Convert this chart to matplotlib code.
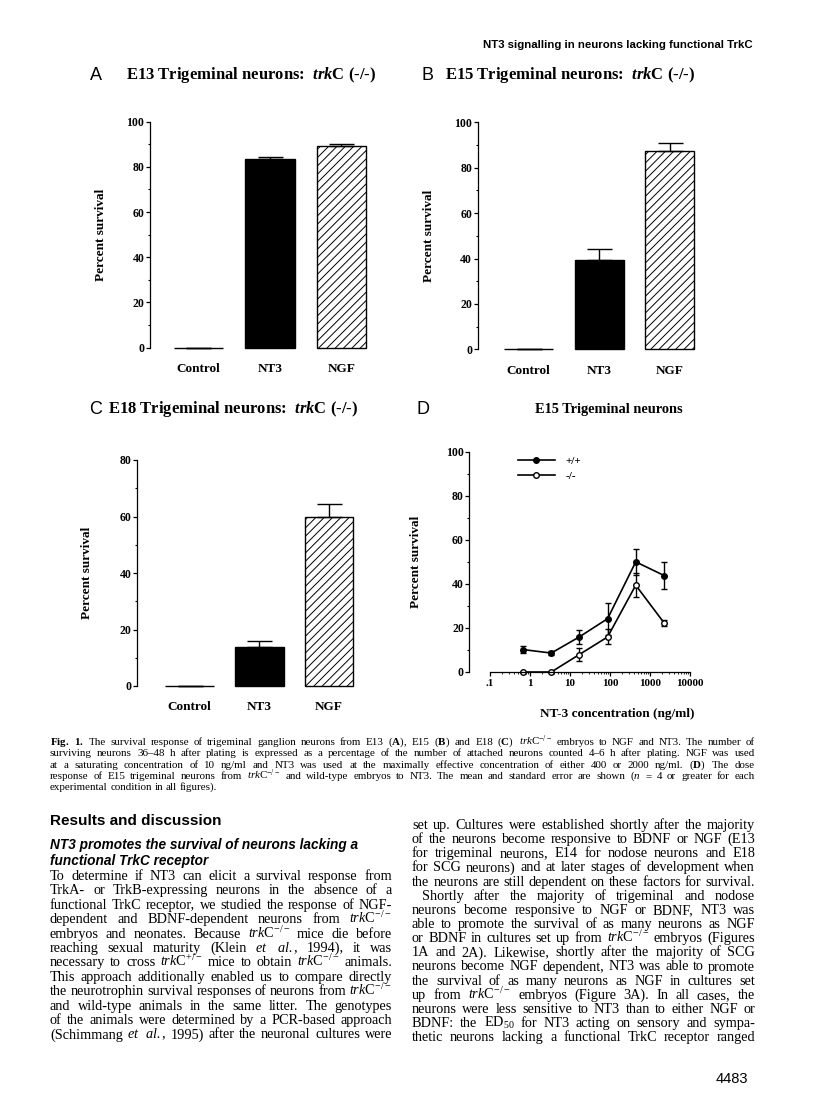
import numpy as np
import matplotlib
matplotlib.use('Agg')
import matplotlib.pyplot as plt
from matplotlib.ticker import FixedLocator, FixedFormatter, NullFormatter, MultipleLocator
from matplotlib.lines import Line2D

plt.rcParams['font.family'] = 'Liberation Serif'
plt.rcParams['mathtext.fontset'] = 'custom'
plt.rcParams['mathtext.rm'] = 'Liberation Serif'
plt.rcParams['mathtext.it'] = 'Liberation Serif:italic:bold'
plt.rcParams['mathtext.bf'] = 'Liberation Serif:bold'
plt.rcParams['mathtext.sf'] = 'Liberation Serif:italic'
plt.rcParams['hatch.linewidth'] = 0.7

W, H = 816, 1104

# ---- data ----
categories = ['Control', 'NT3', 'NGF']
e13_mean = [0, 83.4, 89.4]
e13_err = [0, 1.1, 0.9]
e15_mean = [0, 39.3, 87.4]
e15_err = [0, 4.9, 3.6]
e18_mean = [0, 13.7, 59.7]
e18_err = [0, 2.3, 4.7]

dose = [0.66, 3.4, 17, 87, 440, 2250]
wt_mean = [10.2, 8.6, 15.9, 24.2, 50.0, 43.8]
wt_err = [1.5, 1.0, 3.0, 7.3, 5.9, 6.2]
ko_mean = [0, 0, 7.9, 15.9, 39.4, 22.3]
ko_err = [0, 0, 3.0, 3.4, 5.5, 1.5]
dose_ticks = [0.1, 1, 10, 100, 1000, 10000]
dose_ticklabels = ['.1', '1', '10', '100', '1000', '10000']

fig = plt.figure(figsize=(W / 100, H / 100), dpi=100)
renderer = fig.canvas.get_renderer()


def add_ax(left, top, right, bottom):
    return fig.add_axes([left / W, 1 - bottom / H, (right - left) / W, (bottom - top) / H])


def ftext(x, y, s, **kw):
    return fig.text(x / W, 1 - y / H, s, **kw)


def style_y(ax, ymax, left, right, label_x):
    for s in ['top', 'right', 'bottom']:
        ax.spines[s].set_visible(False)
    ax.spines['left'].set_bounds(0, ymax)
    ax.spines['left'].set_linewidth(0.9)
    ax.set_ylim(0, ymax)
    ax.yaxis.set_major_locator(MultipleLocator(20))
    ax.yaxis.set_minor_locator(MultipleLocator(10))
    ax.tick_params(axis='y', which='major', direction='out', length=3, width=0.9, pad=1,
                   labelsize=8.5)
    ax.tick_params(axis='y', which='minor', direction='out', length=1.8, width=0.8)
    for lab in ax.get_yticklabels():
        lab.set_fontweight('bold')
    ax.set_ylabel('Percent survival', fontsize=9.5, fontweight='bold')
    ax.yaxis.set_label_coords((label_x - left) / (right - left), 0.5)


def bar_panel(ax, means, errs, ymax, left, right, xlo, xhi, label_x, width):
    x = np.arange(len(categories))
    bars = ax.bar(x, means, width=width, color=['white', 'black', 'white'],
                  edgecolor='black', linewidth=1, clip_on=False, zorder=2)
    bars[2].set_hatch('////')
    ax.errorbar(x, means, yerr=[np.zeros(len(errs)), errs], fmt='none', ecolor='black',
                elinewidth=1, capsize=9, capthick=1, clip_on=False, zorder=3)
    ax.set_xlim(xlo, xhi)
    ax.set_xticks(x)
    ax.set_xticklabels(categories, fontsize=9.5, fontweight='bold')
    ax.tick_params(axis='x', length=0, pad=11)
    style_y(ax, ymax, left, right, label_x)


# Panel A
axA = add_ax(150, 121.7, 380, 347.7)
bar_panel(axA, e13_mean, e13_err, 100, 150, 380, -0.675, 2.54, 107, 0.69)
ftext(90, 75, 'A', family='Liberation Sans', fontsize=13, va='center')
ftext(126, 75, r'E13 Trigeminal neurons:  $\mathit{trk}$C (-/-)', fontsize=12,
      fontweight='bold', va='center')

# Panel B
axB = add_ax(477.7, 122.3, 710, 349.3)
bar_panel(axB, e15_mean, e15_err, 100, 477.7, 710, -0.72, 2.57, 435, 0.69)
ftext(421, 75, 'B', family='Liberation Sans', fontsize=13, va='center')
ftext(445, 75, r'E15 Trigeminal neurons:  $\mathit{trk}$C (-/-)', fontsize=12,
      fontweight='bold', va='center')

# Panel C
axC = add_ax(137.3, 460, 370, 686)
bar_panel(axC, e18_mean, e18_err, 80, 137.3, 370, -0.75, 2.59, 93, 0.70)
ftext(89, 409, 'C', family='Liberation Sans', fontsize=13, va='center')
ftext(108, 409, r'E18 Trigeminal neurons:  $\mathit{trk}$C (-/-)', fontsize=12,
      fontweight='bold', va='center')

# Panel D
axD = add_ax(469.5, 451.7, 700, 672)
axD.set_xscale('log')
axD.set_xlim(0.1 / 10 ** ((490 - 469.5) / 40), 10000 * 10 ** ((700 - 690) / 40))
axD.errorbar(dose, wt_mean, yerr=wt_err, fmt='-o', color='black', mfc='black', mec='black',
             ms=4, lw=1.2, elinewidth=1, capsize=2, clip_on=False, label='+/+')
axD.errorbar(dose, ko_mean, yerr=ko_err, fmt='-o', color='black', mfc='white', mec='black',
             ms=4, lw=1.2, elinewidth=1, capsize=2, clip_on=False, label='-/-')
style_y(axD, 100, 469.5, 700, 421.7)
axD.spines['bottom'].set_visible(True)
axD.spines['bottom'].set_bounds(0.1, 10000)
axD.spines['bottom'].set_linewidth(0.9)
axD.xaxis.set_major_locator(FixedLocator(dose_ticks))
axD.xaxis.set_major_formatter(FixedFormatter(dose_ticklabels))
minor = [m * d for d in dose_ticks[:-1] for m in range(2, 10)]
axD.xaxis.set_minor_locator(FixedLocator(minor))
axD.xaxis.set_minor_formatter(NullFormatter())
axD.tick_params(axis='x', which='major', direction='out', length=3, width=0.9, pad=2,
                labelsize=8)
axD.tick_params(axis='x', which='minor', direction='out', length=1.5, width=0.6)
for lab in axD.get_xticklabels():
    lab.set_fontweight('bold')
axD.set_xlabel('NT-3 concentration (ng/ml)', fontsize=9.5, fontweight='bold')
axD.xaxis.set_label_coords((617.5 - 469.5) / (700 - 469.5), -(708 - 672) / (672 - 451.7))
handles = [Line2D([], [], color='black', lw=1.2, marker='o', ms=4, mfc='black', mec='black'),
           Line2D([], [], color='black', lw=1.2, marker='o', ms=4, mfc='white', mec='black')]
axD.legend(handles, ['+/+', '-/-'], loc='upper left', frameon=False,
           bbox_to_anchor=((518 - 469.5) / 230.5, (672 - 456) / 220.3),
           borderpad=0, borderaxespad=0, handlelength=3.3, handletextpad=1.0,
           labelspacing=0.45, prop={'size': 8, 'weight': 'bold'})
ftext(417, 409, 'D', family='Liberation Sans', fontsize=13, va='center')
ftext(609, 409, 'E15 Trigeminal neurons', fontsize=10.4, fontweight='bold', va='center',
      ha='center')


# ---- page text ----
def put_line(x0, x1, y, s, size, justify=True, **kw):
    words = s.split(' ')
    ts = [ftext(0, y, w, fontsize=size, va='baseline', **kw) for w in words]
    ws = [t.get_window_extent(renderer).width for t in ts]
    if justify and len(words) > 1:
        gap = (x1 - x0 - sum(ws)) / (len(words) - 1)
    else:
        gap = size * 0.25 * 100 / 72
    x = x0
    for t, w in zip(ts, ws):
        t.set_position((x / W, 1 - y / H))
        x += w + gap


ftext(753, 45, 'NT3 signalling in neurons lacking functional TrkC', family='Liberation Sans',
      fontsize=8.2, fontweight='bold', ha='right', va='center')
ftext(748, 1079, '4483', family='Liberation Sans', fontsize=10.5, ha='right', va='center')

caption = [
    r'$\mathbf{Fig.}$ $\mathbf{1.}$ The survival response of trigeminal ganglion neurons from E13 ($\mathbf{A}$), E15 ($\mathbf{B}$) and E18 ($\mathbf{C}$) $\mathsf{trk}$C$^{-/-}$ embryos to NGF and NT3. The number of',
    'surviving neurons 36\u201348 h after plating is expressed as a percentage of the number of attached neurons counted 4\u20136 h after plating. NGF was used',
    r'at a saturating concentration of 10 ng/ml and NT3 was used at the maximally effective concentration of either 400 or 2000 ng/ml. ($\mathbf{D}$) The dose',
    r'response of E15 trigeminal neurons from $\mathsf{trk}$C$^{-/-}$ and wild-type embryos to NT3. The mean and standard error are shown ($\mathsf{n}$ = 4 or greater for each',
    'experimental condition in all figures).',
]
for i, line in enumerate(caption):
    put_line(50, 755, 745 + 11.3 * i, line, 7.9, justify=i < len(caption) - 1)

ftext(50, 821, 'Results and discussion', family='Liberation Sans', fontsize=11,
      fontweight='bold', va='center')
ftext(50, 845, 'NT3 promotes the survival of neurons lacking a', family='Liberation Sans',
      fontsize=9.8, fontweight='bold', fontstyle='italic', va='center')
ftext(50, 861, 'functional TrkC receptor', family='Liberation Sans',
      fontsize=9.8, fontweight='bold', fontstyle='italic', va='center')

left_body = [
    'To determine if NT3 can elicit a survival response from',
    'TrkA- or TrkB-expressing neurons in the absence of a',
    'functional TrkC receptor, we studied the response of NGF-',
    r'dependent and BDNF-dependent neurons from $\mathsf{trk}$C$^{-/-}$',
    r'embryos and neonates. Because $\mathsf{trk}$C$^{-/-}$ mice die before',
    r'reaching sexual maturity (Klein $\mathsf{et}$ $\mathsf{al.}$, 1994), it was',
    r'necessary to cross $\mathsf{trk}$C$^{+/-}$ mice to obtain $\mathsf{trk}$C$^{-/-}$ animals.',
    'This approach additionally enabled us to compare directly',
    r'the neurotrophin survival responses of neurons from $\mathsf{trk}$C$^{-/-}$',
    'and wild-type animals in the same litter. The genotypes',
    'of the animals were determined by a PCR-based approach',
    r'(Schimmang $\mathsf{et}$ $\mathsf{al.}$, 1995) after the neuronal cultures were',
]
right_body = [
    'set up. Cultures were established shortly after the majority',
    'of the neurons become responsive to BDNF or NGF (E13',
    'for trigeminal neurons, E14 for nodose neurons and E18',
    'for SCG neurons) and at later stages of development when',
    'the neurons are still dependent on these factors for survival.',
    'Shortly after the majority of trigeminal and nodose',
    'neurons become responsive to NGF or BDNF, NT3 was',
    'able to promote the survival of as many neurons as NGF',
    r'or BDNF in cultures set up from $\mathsf{trk}$C$^{-/-}$ embryos (Figures',
    '1A and 2A). Likewise, shortly after the majority of SCG',
    'neurons become NGF dependent, NT3 was able to promote',
    'the survival of as many neurons as NGF in cultures set',
    r'up from $\mathsf{trk}$C$^{-/-}$ embryos (Figure 3A). In all cases, the',
    'neurons were less sensitive to NT3 than to either NGF or',
    'BDNF: the ED$_{50}$ for NT3 acting on sensory and sympa-',
    'thetic neurons lacking a functional TrkC receptor ranged',
]
for i, line in enumerate(left_body):
    put_line(50, 392, 880 + 14.4 * i, line, 10.3)
for i, line in enumerate(right_body):
    x0 = 422 if i == 5 else 412
    put_line(x0, 755, 829 + 14.15 * i, line, 10.3)

fig.savefig('out.png', dpi=100)
